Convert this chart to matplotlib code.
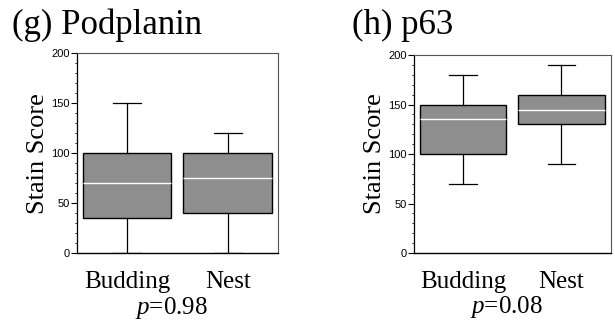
import matplotlib.pyplot as plt

# Group names and box statistics
groups = ["Budding", "Nest"]

podplanin_low = [0, 0]
podplanin_q1 = [35, 40]
podplanin_med = [70, 75]
podplanin_q3 = [100, 100]
podplanin_high = [150, 120]

p63_low = [70, 90]
p63_q1 = [100, 130]
p63_med = [135, 145]
p63_q3 = [150, 160]
p63_high = [180, 190]

panels = [
    ("(g) Podplanin", "0.98", podplanin_low, podplanin_q1, podplanin_med, podplanin_q3, podplanin_high),
    ("(h) p63", "0.08", p63_low, p63_q1, p63_med, p63_q3, p63_high),
]

serif = "Liberation Serif"
sans = "Liberation Sans"

# italic p in the p-value uses the serif italic face
plt.rcParams["mathtext.fontset"] = "custom"
plt.rcParams["mathtext.it"] = "Liberation Serif:italic"
plt.rcParams["mathtext.rm"] = "Liberation Serif"

fig = plt.figure(figsize=(6.15, 3.25), dpi=100)
axes_rects = [[0.125, 0.2215, 0.327, 0.615], [0.673, 0.2215, 0.320, 0.609]]
title_x = [12 / 615, 352 / 615]

for rect, tx, (title, pval, lo, q1, med, q3, hi) in zip(axes_rects, title_x, panels):
    ax = fig.add_axes(rect)
    stats = []
    for i, name in enumerate(groups):
        stats.append({"label": name, "whislo": lo[i], "q1": q1[i], "med": med[i],
                      "q3": q3[i], "whishi": hi[i], "fliers": []})
    ax.bxp(stats, positions=[1, 2], widths=0.88, patch_artist=True, showfliers=False,
           boxprops=dict(facecolor="#8e8e8e", edgecolor="black", linewidth=1.0),
           medianprops=dict(color="white", linewidth=1.0),
           whiskerprops=dict(color="black", linewidth=0.9),
           capprops=dict(color="black", linewidth=0.9),
           capwidths=0.28)
    ax.set_xlim(0.5, 2.5)
    ax.set_ylim(0, 200)
    ax.set_yticks([0, 50, 100, 150, 200])
    ax.set_yticks(range(0, 201, 10), minor=True)
    ax.tick_params(axis="y", which="major", length=4, width=0.8, labelsize=8, pad=1)
    ax.tick_params(axis="y", which="minor", length=1.5, width=0.6)
    ax.tick_params(axis="x", length=0, labelsize=18, pad=13)
    for lab in ax.get_yticklabels():
        lab.set_fontfamily(sans)
    for lab in ax.get_xticklabels():
        lab.set_fontfamily(serif)
    for side in ["top", "right"]:
        ax.spines[side].set_color("#555555")
        ax.spines[side].set_linewidth(0.8)
    ax.spines["left"].set_linewidth(0.9)
    ax.spines["bottom"].set_linewidth(1.0)
    ax.set_ylabel("Stain Score", fontfamily=serif, fontsize=19, labelpad=2)
    ax.text(0.47, -0.275, "$\\mathit{p}$=" + pval, transform=ax.transAxes,
            ha="center", va="center", fontsize=18, fontfamily=serif)
    fig.text(tx, 1 - 25 / 325, title, ha="left", va="center", fontsize=25, fontfamily=serif)

fig.savefig("out.png", dpi=100)
